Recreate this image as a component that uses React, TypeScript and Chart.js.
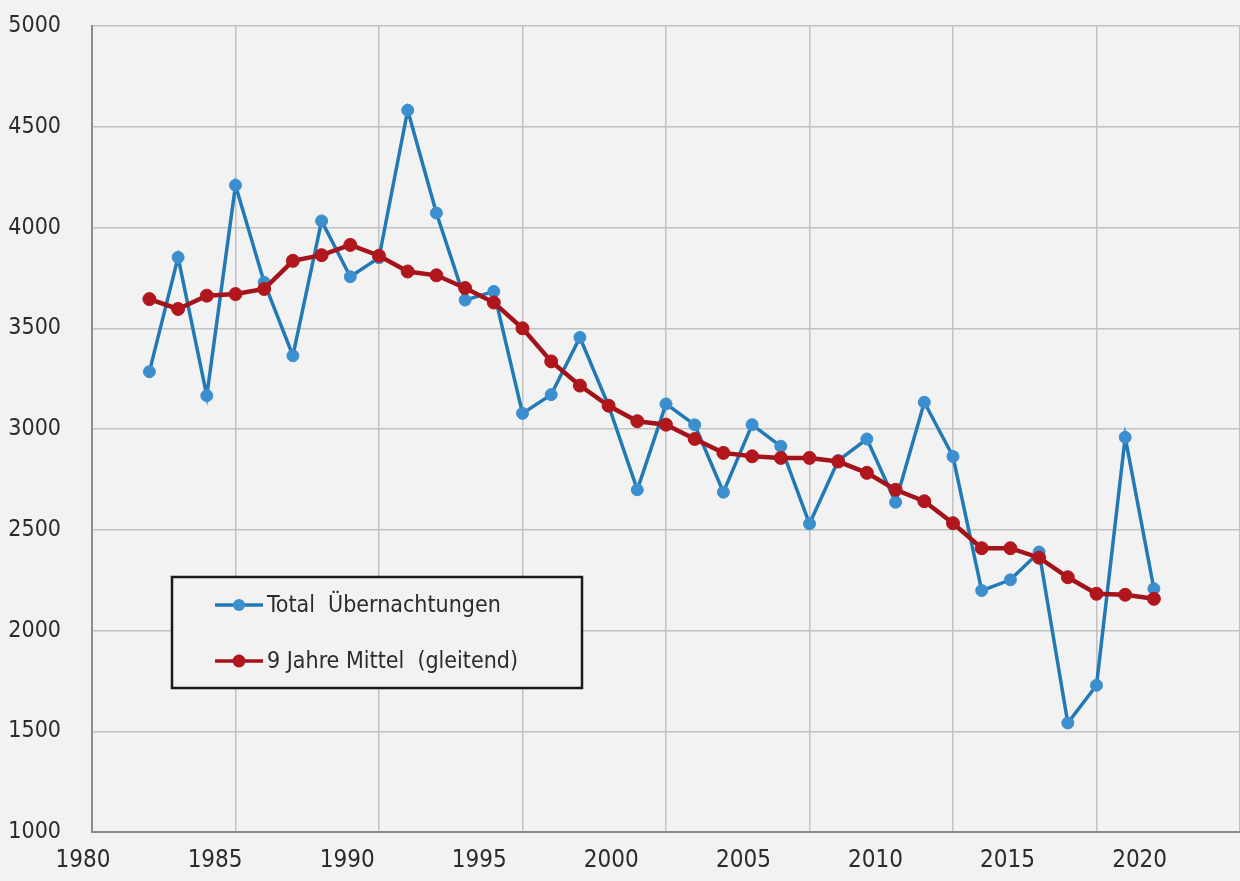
import React, { useEffect, useRef } from "react";
import { Chart, registerables } from "chart.js";

Chart.register(...registerables);

// Data years (one point per year)
const years = [
  1982, 1983, 1984, 1985, 1986, 1987, 1988, 1989, 1990, 1991, 1992, 1993,
  1994, 1995, 1996, 1997, 1998, 1999, 2000, 2001, 2002, 2003, 2004, 2005,
  2006, 2007, 2008, 2009, 2010, 2011, 2012, 2013, 2014, 2015, 2016, 2017,
];

const totalUebernachtungen = [
  3285, 3852, 3166, 4210, 3728, 3364, 4033, 3756, 3850, 4582, 4072, 3640,
  3683, 3078, 3171, 3455, 3116, 2699, 3125, 3021, 2687, 3022, 2915, 2530,
  2844, 2951, 2637, 3133, 2864, 2199, 2252, 2390, 1542, 1729, 2959, 2208,
];

const mittel9Jahre = [
  3645, 3596, 3662, 3670, 3695, 3835, 3863, 3914, 3860, 3782, 3763, 3700,
  3628, 3500, 3336, 3216, 3116, 3039, 3022, 2951, 2882, 2865, 2857, 2857,
  2839, 2783, 2699, 2642, 2533, 2409, 2409, 2362, 2265, 2183, 2178, 2158,
];

// Printed tick labels of the horizontal axis
const xTickLabels = [1980, 1985, 1990, 1995, 2000, 2005, 2010, 2015, 2020];
// Vertical axis ticks
const yTickValues = [1000, 1500, 2000, 2500, 3000, 3500, 4000, 4500, 5000];

const seriesLabels = ["Total  Übernachtungen", "9 Jahre Mittel  (gleitend)"];

const BLUE_LINE = "#2379b5";
const BLUE_POINT = "#3b8fcf";
const RED_LINE = "#a3131a";
const RED_POINT = "#b1161c";
const FONT = "'DejaVu Sans Condensed', 'Roboto', sans-serif";
const TEXT = "#2b2b2b";

const zeroPad = (scale: any) => {
  scale.paddingTop = 0;
  scale.paddingBottom = 0;
  scale.paddingLeft = 0;
  scale.paddingRight = 0;
};

const legendPlugin = {
  id: "boxLegend",
  afterDraw(chart: any) {
    const { ctx, chartArea } = chart;
    const x0 = chartArea.left + 80;
    const y0 = chartArea.top + 551;
    const w = 410;
    const h = 111;
    ctx.save();
    ctx.fillStyle = "#f2f2f2";
    ctx.fillRect(x0, y0, w, h);
    ctx.strokeStyle = "#1a1a1a";
    ctx.lineWidth = 2.5;
    ctx.strokeRect(x0, y0, w, h);
    const rows = [
      { label: seriesLabels[0], line: BLUE_LINE, point: BLUE_POINT, dy: 28, r: 6 },
      { label: seriesLabels[1], line: RED_LINE, point: RED_POINT, dy: 84, r: 6.5 },
    ];
    rows.forEach((row) => {
      const y = y0 + row.dy;
      ctx.strokeStyle = row.line;
      ctx.lineWidth = 3.5;
      ctx.beginPath();
      ctx.moveTo(x0 + 43, y);
      ctx.lineTo(x0 + 91, y);
      ctx.stroke();
      ctx.fillStyle = row.point;
      ctx.beginPath();
      ctx.arc(x0 + 67, y, row.r, 0, Math.PI * 2);
      ctx.fill();
      ctx.fillStyle = TEXT;
      ctx.font = `23px ${FONT}`;
      ctx.textAlign = "left";
      ctx.textBaseline = "middle";
      ctx.fillText(row.label, x0 + 95, y + 1);
    });
    ctx.restore();
  },
};

export default function App() {
  const canvasRef = useRef<HTMLCanvasElement | null>(null);

  useEffect(() => {
    document.body.style.margin = "0";
    const canvas = canvasRef.current;
    if (!canvas) return;

    const chart = new Chart(canvas, {
      type: "line",
      data: {
        datasets: [
          {
            label: seriesLabels[1],
            data: years.map((yr, i) => ({ x: yr, y: mittel9Jahre[i] })),
            borderColor: RED_LINE,
            backgroundColor: RED_POINT,
            pointBackgroundColor: RED_POINT,
            pointBorderColor: RED_POINT,
            borderWidth: 4.5,
            pointRadius: 6.5,
            pointBorderWidth: 1,
            tension: 0,
            order: 0,
            xAxisID: "x",
            yAxisID: "y",
          },
          {
            label: seriesLabels[0],
            data: years.map((yr, i) => ({ x: yr, y: totalUebernachtungen[i] })),
            borderColor: BLUE_LINE,
            backgroundColor: BLUE_POINT,
            pointBackgroundColor: BLUE_POINT,
            pointBorderColor: BLUE_POINT,
            borderWidth: 3.5,
            pointRadius: 6,
            pointBorderWidth: 1,
            tension: 0,
            order: 1,
            xAxisID: "x",
            yAxisID: "y",
          },
        ],
      },
      options: {
        animation: false,
        responsive: false,
        maintainAspectRatio: false,
        layout: { autoPadding: false, padding: { top: 26, left: 0, right: 0, bottom: -8 } },
        plugins: {
          legend: { display: false },
          tooltip: { enabled: false },
        },
        scales: {
          x: {
            type: "linear",
            position: "bottom",
            min: 1980,
            max: 2020,
            afterFit: zeroPad,
            ticks: { display: false, stepSize: 5 },
            grid: { color: "#c2c2c2", lineWidth: 1.5, drawTicks: false },
            border: { display: true, color: "#8c8c8c", width: 2 },
          },
          xl: {
            type: "linear",
            position: "bottom",
            min: 1980.34,
            max: 2023.8,
            afterBuildTicks: (scale: any) => {
              scale.ticks = xTickLabels.map((v) => ({ value: v }));
            },
            afterFit: zeroPad,
            ticks: {
              autoSkip: false,
              maxRotation: 0,
              padding: 14,
              color: TEXT,
              font: { family: FONT, size: 24 },
              callback: (v: any) => String(v),
            },
            grid: { display: false, drawTicks: false },
            border: { display: false },
          },
          y: {
            type: "linear",
            min: 1000,
            max: 5000,
            afterBuildTicks: (scale: any) => {
              scale.ticks = yTickValues.map((v) => ({ value: v }));
            },
            afterFit: (scale: any) => {
              scale.width = 92;
              zeroPad(scale);
            },
            ticks: {
              padding: 31,
              color: TEXT,
              font: { family: FONT, size: 23 },
              callback: (v: any) => String(v),
            },
            grid: { color: "#c2c2c2", lineWidth: 1.5, drawTicks: false },
            border: { display: true, color: "#8c8c8c", width: 2 },
          },
        },
      },
      plugins: [legendPlugin],
    });

    return () => chart.destroy();
  }, []);

  return (
    <div
      style={{
        position: "fixed",
        left: 0,
        top: 0,
        width: 1240,
        height: 881,
        background: "#f2f2f2",
      }}
    >
      <canvas ref={canvasRef} width={1240} height={881} style={{ display: "block" }} />
    </div>
  );
}
